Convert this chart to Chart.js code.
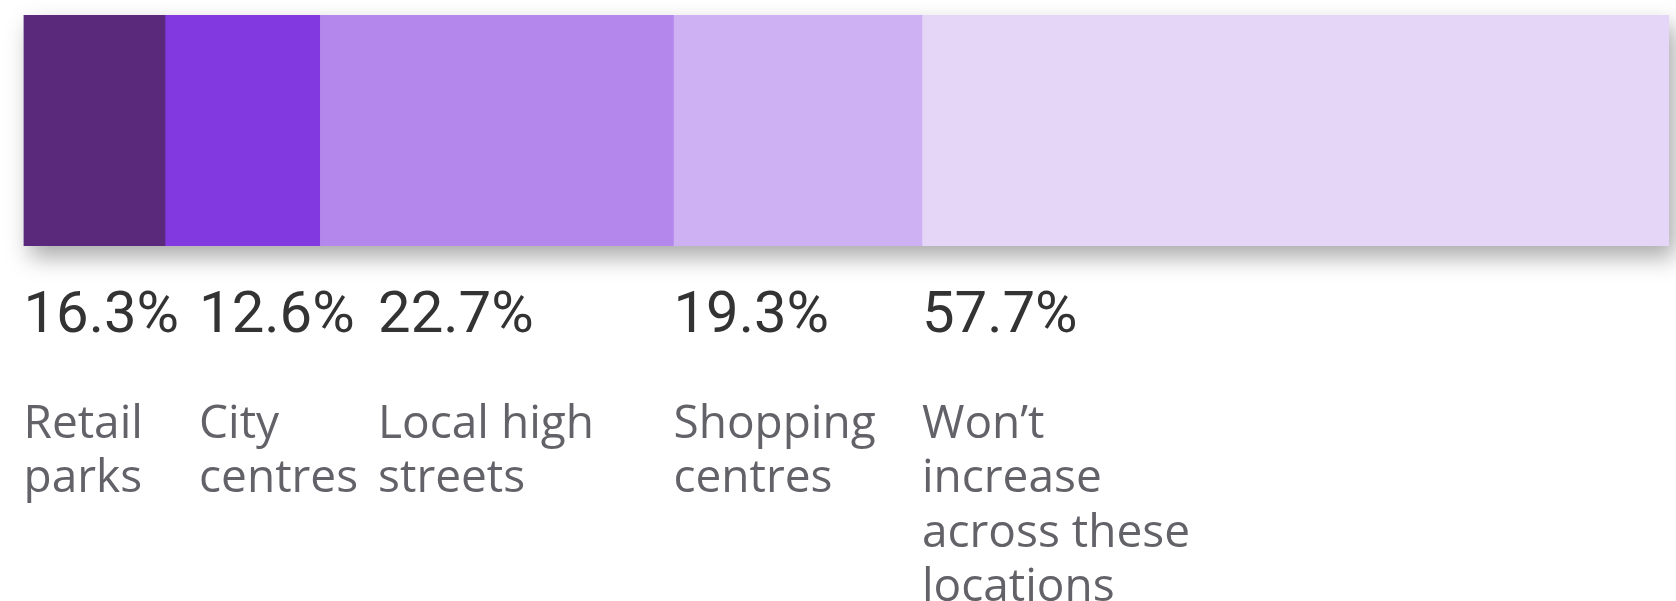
<!DOCTYPE html>
<html lang="en">
<head>
  <meta charset="UTF-8">
  <title>Retail locations</title>
  <script src="https://cdn.jsdelivr.net/npm/chart.js"></script>
  <style>
    html, body { margin: 0; padding: 0; background: #fff; }
    canvas { display: block; }
  </style>
</head>
<body>
  <canvas id="locChart" width="1676" height="601"></canvas>

  <script>
    // data
    const categories = ['Retail parks', 'City centres', 'Local high streets', 'Shopping centres', 'Won’t increase across these locations'];
    const labelLines = [
      ['Retail', 'parks'],
      ['City', 'centres'],
      ['Local high', 'streets'],
      ['Shopping', 'centres'],
      ['Won’t', 'increase', 'across these', 'locations']
    ];
    const percentValues = [16.3, 12.6, 22.7, 19.3, 57.7];
    // share of the bar each segment takes in the picture (not the same as the %)
    const barShare = [8.6, 9.4, 21.5, 15.1, 45.4];
    const segColors = ['#5a297c', '#823ae0', '#b387eb', '#cdb1f2', '#e5d6f7'];

    const pctFont = '58px Roboto';
    const labelFont = '46px "Open Sans"';
    const colGap = 20;

    // grey drop shadow under the whole bar
    const barShadow = {
      id: 'barShadow',
      beforeDatasetsDraw(chart) {
        const first = chart.getDatasetMeta(0).data[0];
        const last = chart.getDatasetMeta(chart.data.datasets.length - 1).data[0];
        if (!first || !last) return;
        const top = first.y - first.height / 2;
        const ctx = chart.ctx;
        ctx.save();
        ctx.shadowColor = 'rgba(0,0,0,0.34)';
        ctx.shadowBlur = 22;
        ctx.shadowOffsetX = 6;
        ctx.shadowOffsetY = 11;
        ctx.fillStyle = '#fff';
        ctx.fillRect(first.base, top, last.x - first.base, first.height);
        ctx.restore();
      }
    };

    // percentages and category names under each segment
    const segLabels = {
      id: 'segLabels',
      afterDraw(chart) {
        const ctx = chart.ctx;
        ctx.save();
        ctx.textAlign = 'left';
        ctx.textBaseline = 'alphabetic';
        let prevRight = -Infinity;
        chart.data.datasets.forEach((ds, i) => {
          const bar = chart.getDatasetMeta(i).data[0];
          const left = Math.min(bar.base, bar.x);
          const x = Math.max(left, prevRight + colGap);
          const pct = percentValues[i].toFixed(1) + '%';

          ctx.font = pctFont;
          ctx.fillStyle = '#333333';
          ctx.fillText(pct, x, 332);
          let w = ctx.measureText(pct).width;

          ctx.font = labelFont;
          ctx.fillStyle = '#646269';
          labelLines[i].forEach((line, j) => {
            ctx.fillText(line, x, 438 + j * 54.4);
            w = Math.max(w, ctx.measureText(line).width);
          });
          prevRight = x + w;
        });
        ctx.restore();
      }
    };

    const ctx = document.getElementById('locChart').getContext('2d');
    new Chart(ctx, {
      type: 'bar',
      data: {
        labels: [''],
        datasets: categories.map((c, i) => ({
          label: c,
          data: [barShare[i]],
          backgroundColor: segColors[i],
          borderWidth: 0,
          barPercentage: 1,
          categoryPercentage: 1
        }))
      },
      options: {
        indexAxis: 'y',
        responsive: false,
        animation: false,
        layout: { padding: { left: 23.5, right: 7, top: 15, bottom: 355 } },
        scales: {
          x: { stacked: true, min: 0, max: 100, display: false },
          y: { stacked: true, display: false }
        },
        plugins: { legend: { display: false }, tooltip: { enabled: false } }
      },
      plugins: [barShadow, segLabels]
    });
  </script>
</body>
</html>
